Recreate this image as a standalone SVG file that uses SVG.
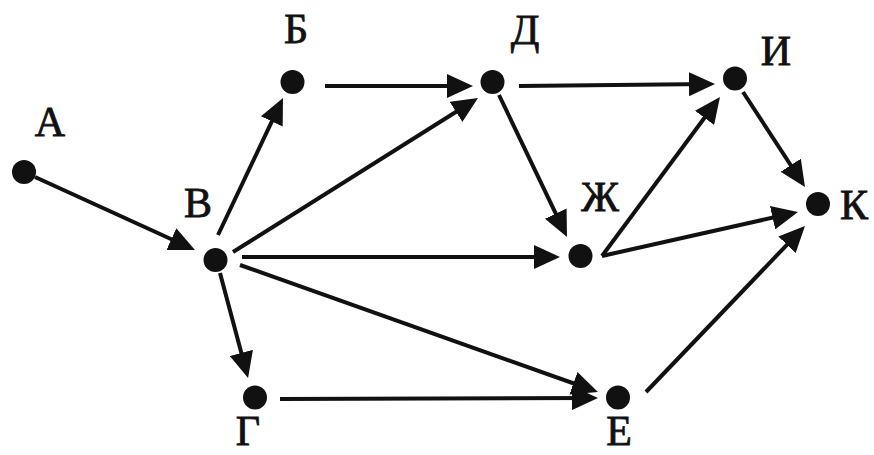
<svg xmlns="http://www.w3.org/2000/svg" width="874" height="455" viewBox="0 0 874 455">
<style>
.dot{fill:#111}
.lbl{font-size:42px;fill:#111;stroke:#111;stroke-width:0.8;text-anchor:middle}
.edge{stroke:#111;stroke-width:4;fill:none;marker-end:url(#ah)}
</style>
<defs>
<marker id="ah" markerUnits="userSpaceOnUse" markerWidth="26" markerHeight="24" viewBox="0 0 26 24" refX="20" refY="12" orient="auto">
<path d="M0,0 L26,12 L0,24 z" fill="#111"/>
</marker>
</defs>
<rect width="874" height="455" fill="#fff"/>
<g id="connectors">
<line class="edge" x1="35" y1="177" x2="189.5" y2="247.5"/>
<line class="edge" x1="218" y1="235" x2="280.4" y2="103.4"/>
<line class="edge" x1="233" y1="252" x2="472.9" y2="101.2"/>
<line class="edge" x1="242" y1="257" x2="554" y2="257"/>
<line class="edge" x1="240" y1="265" x2="592.3" y2="390"/>
<line class="edge" x1="220" y1="273" x2="246.5" y2="372.2"/>
<line class="edge" x1="325" y1="86" x2="467" y2="86"/>
<line class="edge" x1="519" y1="86" x2="709" y2="84"/>
<line class="edge" x1="499" y1="95" x2="564.4" y2="231.6"/>
<line class="edge" x1="602" y1="256" x2="716.4" y2="101.8"/>
<line class="edge" x1="602" y1="256" x2="792.1" y2="213.3"/>
<line class="edge" x1="743" y1="92" x2="801.7" y2="182"/>
<line class="edge" x1="646" y1="392" x2="800.8" y2="230.3"/>
<line class="edge" x1="280" y1="399" x2="592" y2="398"/>
</g>
<g font-family="'Liberation Serif', 'DejaVu Serif', serif">
<g id="node-A"><circle class="dot" cx="24" cy="172" r="12"/><text class="lbl" x="50" y="136">А</text></g>
<g id="node-B"><circle class="dot" cx="292.5" cy="82" r="12"/><text class="lbl" x="296" y="43">Б</text></g>
<g id="node-V"><circle class="dot" cx="215.5" cy="260" r="12"/><text class="lbl" x="198" y="217">В</text></g>
<g id="node-G"><circle class="dot" cx="255" cy="397.5" r="12"/><text class="lbl" x="248" y="445">Г</text></g>
<g id="node-D"><circle class="dot" cx="492.5" cy="82" r="12"/><text class="lbl" x="525" y="44">Д</text></g>
<g id="node-E"><circle class="dot" cx="618" cy="397.5" r="12"/><text class="lbl" x="619" y="445">Е</text></g>
<g id="node-Zh"><circle class="dot" cx="580.5" cy="256" r="12"/><text class="lbl" x="600" y="211">Ж</text></g>
<g id="node-I"><circle class="dot" cx="735" cy="78.5" r="12"/><text class="lbl" x="776" y="65">И</text></g>
<g id="node-K"><circle class="dot" cx="818" cy="204" r="12"/><text class="lbl" x="854" y="219">К</text></g>
</g>
</svg>
